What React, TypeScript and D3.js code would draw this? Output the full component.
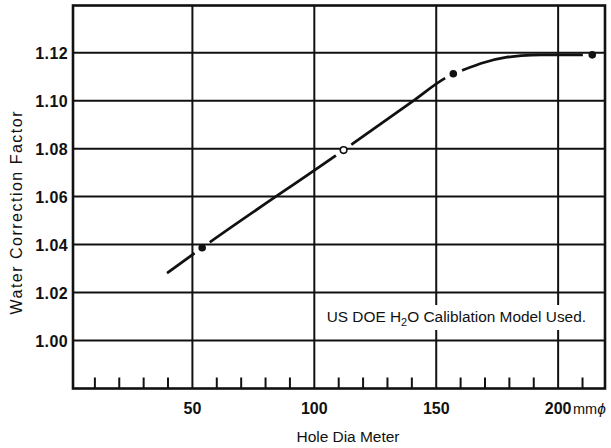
import React from "react";
import * as d3 from "d3";

// Curve trace (hole diameter mm, correction factor)
const curveX = [40, 54, 112, 140, 154, 157, 160, 170, 179, 185, 193, 214];
const curveY = [1.0284, 1.0387, 1.0794, 1.0995, 1.1096, 1.1112, 1.1124, 1.116, 1.1181, 1.1188, 1.1191, 1.1191];
// Measured points
const markerX = [54, 112, 157, 214];
const markerY = [1.0387, 1.0794, 1.1112, 1.1191];
const markerFilled = [true, false, true, true];
// Axes
const yTicks = [1.0, 1.02, 1.04, 1.06, 1.08, 1.1, 1.12];
const xMajor = [50, 100, 150, 200];
const xMinor = [10, 20, 30, 40, 60, 70, 80, 90, 110, 120, 130, 140, 160, 170, 180, 190, 210];
const xLabels = ["50", "100", "150", "200"];

const W = 611;
const H = 448;
const left = 73;
const right = 605;
const top = 5.5;
const bottom = 388.5;
const FONT = "'Liberation Sans', Arial, Helvetica, sans-serif";

export default function App() {
  const x = d3.scaleLinear().domain([0, 220]).range([70.5, 606.9]);
  const y = d3.scaleLinear().domain([0.98, 1.14]).range([388.5, 4.7]);
  const pts: [number, number][] = curveX.map((v, i) => [v, curveY[i]]);
  const line = d3
    .line<[number, number]>()
    .x((d) => x(d[0]))
    .y((d) => y(d[1]))
    .curve(d3.curveMonotoneX);
  const fmt = d3.format(".2f");

  return (
    <svg
      width={W}
      height={H}
      viewBox={`0 0 ${W} ${H}`}
      style={{ position: "fixed", left: 0, top: 0, background: "#fff" }}
      fontFamily={FONT}
    >
      <defs>
        <mask id="gaps" maskUnits="userSpaceOnUse" x={0} y={0} width={W} height={H}>
          <rect x={0} y={0} width={W} height={H} fill="#fff" />
          {markerX.map((v, i) => (
            <circle key={i} cx={x(v)} cy={y(markerY[i])} r={9.5} fill="#000" />
          ))}
        </mask>
      </defs>
      <rect x={0} y={0} width={W} height={H} fill="#fff" />

      {/* horizontal grid */}
      {yTicks.map((v) => (
        <line key={"h" + v} x1={left} x2={right} y1={y(v)} y2={y(v)} stroke="#111" strokeWidth={2} />
      ))}
      {/* vertical grid */}
      {xMajor.map((v) => (
        <line key={"v" + v} x1={x(v)} x2={x(v)} y1={top} y2={bottom} stroke="#111" strokeWidth={2} />
      ))}
      {/* minor ticks */}
      {xMinor.map((v) => (
        <line key={"m" + v} x1={x(v)} x2={x(v)} y1={bottom} y2={bottom - 11} stroke="#111" strokeWidth={2} />
      ))}

      {/* annotation box */}
      <rect x={316} y={305} width={287} height={25} fill="#fff" />
      <text x={326.7} y={322.3} fontSize={15.4} fill="#111">
        US DOE H
        <tspan dy={4} fontSize={11}>2</tspan>
        <tspan dy={-4}>O Caliblation Model Used.</tspan>
      </text>

      {/* frame */}
      <rect x={left} y={top} width={right - left} height={bottom - top} fill="none" stroke="#111" strokeWidth={2.6} />

      {/* curve */}
      <path d={line(pts) || ""} fill="none" stroke="#111" strokeWidth={2.8} strokeLinecap="round" mask="url(#gaps)" />
      {markerX.map((v, i) => (
        <circle
          key={"mk" + i}
          cx={x(v)}
          cy={y(markerY[i])}
          r={markerFilled[i] ? 3.8 : 3.3}
          fill={markerFilled[i] ? "#111" : "#fff"}
          stroke="#111"
          strokeWidth={markerFilled[i] ? 0 : 1.6}
        />
      ))}

      {/* y tick labels */}
      {yTicks.map((v) => (
        <text
          key={"yl" + v}
          x={68}
          y={y(v) + 6}
          textAnchor="end"
          fontSize={16}
          fontWeight="bold"
          letterSpacing={0.4}
          fill="#111"
        >
          {fmt(v)}
        </text>
      ))}
      {/* x tick labels */}
      {xMajor.map((v, i) => (
        <text key={"xl" + v} x={x(v)} y={413.5} textAnchor="middle" fontSize={16} fontWeight="bold" fill="#111">
          {xLabels[i]}
        </text>
      ))}
      <text x={573} y={413.5} fontSize={14.5} fill="#111">
        mm<tspan fontStyle="italic" fontSize={15.5}>ϕ</tspan>
      </text>

      {/* axis titles */}
      <text x={348} y={441.7} textAnchor="middle" fontSize={15.5} textLength={103} lengthAdjust="spacing" fill="#111">
        Hole Dia Meter
      </text>
      <text
        transform="translate(21.5,213) rotate(-90)"
        textAnchor="middle"
        fontSize={16}
        textLength={203}
        lengthAdjust="spacing"
        fill="#111"
      >
        Water Correction Factor
      </text>
    </svg>
  );
}
